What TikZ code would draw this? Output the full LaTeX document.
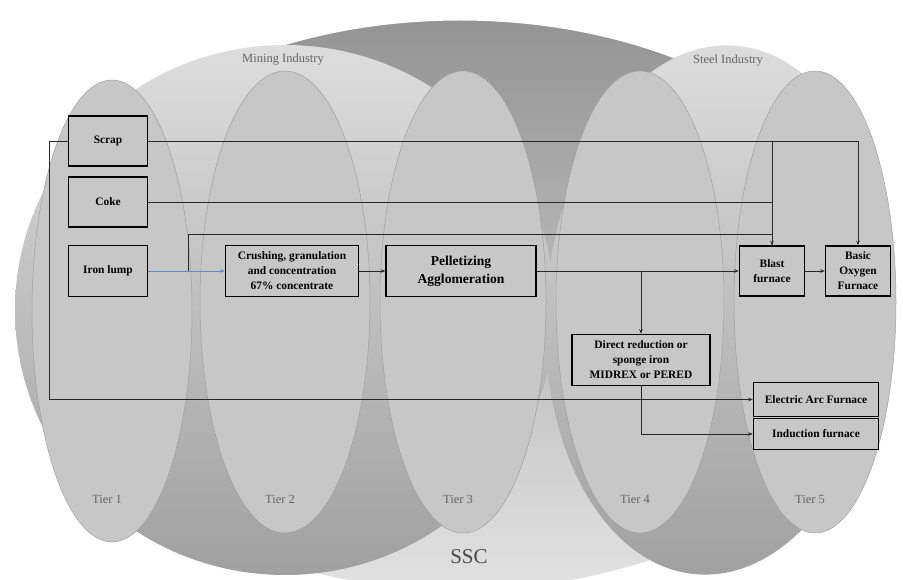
\documentclass[tikz,border=0pt]{standalone}
\usepackage{fontspec}
\setmainfont{Liberation Serif}
\usetikzlibrary{arrows.meta}
\definecolor{sscdark}{RGB}{148,148,148}
\definecolor{ssclight}{RGB}{226,226,226}
\definecolor{indtop}{RGB}{221,221,221}
\definecolor{indbot}{RGB}{160,160,160}
\definecolor{tierfill}{RGB}{199,199,199}
\definecolor{tierline}{RGB}{160,160,160}
\definecolor{labelgray}{RGB}{100,100,100}
\definecolor{linkblue}{RGB}{95,140,200}
\definecolor{linkgray}{RGB}{40,40,40}
\begin{document}
\begin{tikzpicture}[x=1pt, y=-1pt,
    stage/.style={draw=black, line width=1.5pt, inner sep=0pt, align=center,
      font=\bfseries\fontsize{11.4}{15}\selectfont},
    link/.style={draw=linkgray, line width=0.7pt},
    linkto/.style={link, -{Stealth[length=4.5pt,width=3.5pt]}},
    tier/.style={fill=tierfill, draw=tierline, line width=0.5pt},
    tierlabel/.style={text=labelgray, font=\fontsize{12.5}{14}\selectfont}]
  \useasboundingbox (0,0) rectangle (903,580);
  % SSC and the two industries
  \shadedraw[top color=sscdark, bottom color=ssclight, draw=white, line width=1pt]
    (460,305) ellipse [x radius=430, y radius=285];
  \shade[top color=indtop, bottom color=indbot] (285,310) ellipse [x radius=270, y radius=265];
  \shade[top color=indtop, bottom color=indbot, rotate around={-4:(716,310)}]
    (716,310) ellipse [x radius=170, y radius=265];
  % tiers
  \foreach \cx/\cy/\rx/\n in {112/311/80/1, 285/302/85/2, 463/302/83/3, 640/302/84/4, 815/302/81/5}{
    \draw[tier] (\cx,\cy) ellipse [x radius=\rx, y radius=231];
    \node[tierlabel] (tier\n) at (\cx-5,499) {Tier \n};
  }
  \node[tierlabel] (mining) at (283,60) {Mining Industry};
  \node[tierlabel] (steel) at (728,61) {Steel Industry};
  \node[text=black!72, font=\fontsize{21}{24}\selectfont] (ssc) at (469,557) {SSC};
  % process boxes
  \node[stage, minimum width=79pt, minimum height=50pt] (scrap) at (108,141) {Scrap};
  \node[stage, minimum width=79pt, minimum height=50pt] (coke) at (108,202) {Coke};
  \node[stage, minimum width=79pt, minimum height=51pt] (iron) at (108,271) {Iron lump};
  \node[stage, minimum width=133pt, minimum height=51pt] (crush) at (292,271)
    {Crushing, granulation\\and concentration\\67\% concentrate};
  \node[stage, minimum width=150pt, minimum height=51pt,
    font=\bfseries\fontsize{13.6}{18}\selectfont] (pellet) at (461,271) {Pelletizing\\Agglomeration};
  \node[stage, minimum width=65pt, minimum height=50pt] (blast) at (772,271) {Blast\\furnace};
  \node[stage, minimum width=65pt, minimum height=50pt] (bof) at (858,271) {Basic\\Oxygen\\Furnace};
  \node[stage, minimum width=138pt, minimum height=51pt] (dri) at (641,360)
    {Direct reduction or\\sponge iron\\MIDREX or PERED};
  \node[stage, minimum width=125pt, minimum height=34pt] (eaf) at (816,399.5) {Electric Arc Furnace};
  \node[stage, minimum width=125pt, minimum height=31pt] (induct) at (816,434) {Induction furnace};
  % flows
  \coordinate (ironfork) at (188,271);
  \draw[linkto] (scrap.east) -| (bof.north);
  \draw[linkto] (scrap.east -| blast.north) -- (blast.north);
  \draw[link] (coke.east) -| (blast.north);
  \draw[link] (ironfork) -- ++(0,-37) -| (blast.north);
  \draw[linkto] (scrap.west) -- ++(-18,0) |- (eaf.west);
  \draw[linkto, draw=linkblue] (iron.east) -- (crush.west);
  \draw[linkto] (crush.east) -- (pellet.west);
  \draw[linkto] (pellet.east) -- (blast.west);
  \draw[linkto] (pellet.east -| dri.north) -- (dri.north);
  \draw[linkto] (blast.east) -- (bof.west);
  \draw[linkto] (dri.south) |- (induct.west);
\end{tikzpicture}
\end{document}
